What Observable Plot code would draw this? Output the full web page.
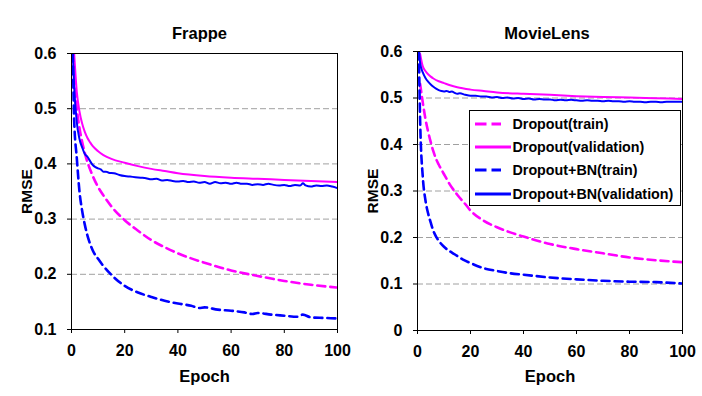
<!DOCTYPE html>
<html>
<head>
<meta charset="utf-8">
<script src="https://cdn.jsdelivr.net/npm/d3@7"></script>
<script src="https://cdn.jsdelivr.net/npm/@observablehq/plot@0.6"></script>
<style>
  body { margin: 0; background: #fff; }
  #chart { position: relative; width: 702px; height: 396px; font-family: "Liberation Sans", Arial, sans-serif; }
  #chart .panel { position: absolute; top: 0; }
  #legend { position: absolute; left: 469px; top: 110px; width: 212px; height: 96px; box-sizing: border-box;
            border: 1px solid #000; background: #fff; }
  #legend .row { position: absolute; left: 0; height: 20px; display: flex; align-items: center; }
  #legend .row span { font-weight: bold; font-size: 14.3px; color: #000; white-space: nowrap; }
</style>
</head>
<body>
<div id="chart">
  <div class="panel" id="left" style="left:0px"></div>
  <div class="panel" id="right" style="left:350px"></div>
  <div id="legend"></div>
</div>
<script>
// ---------- Data ----------
const panelTitles = ["Frappe", "MovieLens"];
const seriesNames = ["Dropout(train)", "Dropout(validation)", "Dropout+BN(train)", "Dropout+BN(validation)"];
const seriesColors = ["#ff00ff", "#ff00ff", "#0000ff", "#0000ff"];
const seriesDashed = [true, false, true, false];
const xTicks = [0, 20, 40, 60, 80, 100];
const frappeYTicks = [0.1, 0.2, 0.3, 0.4, 0.5, 0.6];
const movieYTicks = [0, 0.1, 0.2, 0.3, 0.4, 0.5, 0.6];

// Frappe
const frappeDropTrainEpoch = [1,2,3,4,5,6,7,8,10,12,15,20,25,30,35,40,50,60,70,80,90,100];
const frappeDropTrainRMSE  = [0.56,0.50,0.465,0.44,0.42,0.403,0.39,0.378,0.358,0.343,0.323,0.298,0.279,0.262,0.249,0.238,0.221,0.207,0.197,0.188,0.181,0.176];
const frappeDropValEpoch = [1,2,3,4,5,6,7,8,10,12,15,20,25,30,35,40,50,60,70,80,90,100];
const frappeDropValRMSE  = [0.60,0.53,0.495,0.473,0.458,0.447,0.439,0.432,0.423,0.416,0.409,0.402,0.396,0.391,0.387,0.383,0.378,0.375,0.373,0.371,0.369,0.367];
const frappeBNTrainEpoch = [0.5,1,2,3,4,5,6,7,8,10,12,15,20,25,30,35,40,45,48,50,55,60,65,68,70,75,80,85,87,90,95,100];
const frappeBNTrainRMSE  = [0.60,0.48,0.41,0.35,0.315,0.29,0.27,0.255,0.243,0.228,0.215,0.199,0.179,0.167,0.159,0.152,0.147,0.143,0.139,0.140,0.136,0.134,0.131,0.128,0.130,0.127,0.125,0.123,0.127,0.122,0.121,0.120];
const frappeBNValEpoch = [0.5,1,2,3,4,5,6,7,8,9,10,11,12,13,14,16,18,20,22,24,26,28,30,32,34,36,38,40,42,44,46,48,50,52,54,56,58,60,62,64,66,68,70,72,74,76,78,80,82,84,86,87,88,90,92,94,96,98,100];
const frappeBNValRMSE  = [0.60,0.54,0.475,0.445,0.43,0.418,0.413,0.405,0.398,0.394,0.392,0.390,0.386,0.386,0.384,0.383,0.380,0.378,0.377,0.376,0.375,0.374,0.372,0.373,0.370,0.371,0.369,0.368,0.369,0.367,0.368,0.366,0.367,0.364,0.367,0.365,0.366,0.364,0.366,0.364,0.364,0.362,0.363,0.362,0.364,0.362,0.361,0.362,0.360,0.362,0.361,0.365,0.361,0.359,0.361,0.360,0.361,0.359,0.356];

// MovieLens
const movieDropTrainEpoch = [1,2,3,4,5,6,7,8,10,12,15,18,20,25,30,35,40,50,60,70,80,90,100];
const movieDropTrainRMSE  = [0.53,0.49,0.455,0.428,0.405,0.385,0.369,0.357,0.336,0.316,0.292,0.272,0.258,0.236,0.222,0.211,0.202,0.186,0.175,0.166,0.157,0.151,0.147];
const movieDropValEpoch = [1,2,3,4,5,6,8,10,12,15,20,25,30,40,50,60,70,80,90,100];
const movieDropValRMSE  = [0.595,0.568,0.558,0.551,0.546,0.542,0.536,0.532,0.528,0.523,0.518,0.515,0.512,0.509,0.507,0.504,0.502,0.501,0.4995,0.498];
const movieBNTrainEpoch = [0.5,1,2,3,4,5,6,7,8,10,12,14,17,20,25,30,35,40,50,60,70,80,90,100];
const movieBNTrainRMSE  = [0.60,0.45,0.33,0.28,0.252,0.232,0.214,0.202,0.193,0.18,0.171,0.164,0.153,0.145,0.134,0.128,0.123,0.12,0.114,0.11,0.107,0.105,0.104,0.101];
const movieBNValEpoch = [0.6,1,2,3,4,5,6,7,8,9,10,11,12,13,14,15,16,18,20,22,24,26,28,30,32,34,36,38,40,42,44,46,48,50,52,54,56,58,60,62,64,66,68,70,72,74,76,78,80,82,84,86,88,90,92,94,96,98,100];
const movieBNValRMSE  = [0.60,0.575,0.555,0.543,0.535,0.529,0.524,0.520,0.517,0.515,0.514,0.515,0.513,0.514,0.511,0.509,0.510,0.507,0.505,0.505,0.503,0.503,0.501,0.502,0.500,0.501,0.499,0.500,0.498,0.499,0.497,0.498,0.497,0.497,0.495,0.496,0.495,0.496,0.495,0.494,0.495,0.494,0.494,0.493,0.494,0.493,0.493,0.492,0.493,0.492,0.492,0.491,0.492,0.492,0.491,0.492,0.492,0.492,0.492];

// ---------- Build ----------
function rows(epochs, values) { return epochs.map((e, i) => ({epoch: e, rmse: values[i]})); }

const frappeSeries = [
  rows(frappeDropTrainEpoch, frappeDropTrainRMSE),
  rows(frappeDropValEpoch, frappeDropValRMSE),
  rows(frappeBNTrainEpoch, frappeBNTrainRMSE),
  rows(frappeBNValEpoch, frappeBNValRMSE)
];
const movieSeries = [
  rows(movieDropTrainEpoch, movieDropTrainRMSE),
  rows(movieDropValEpoch, movieDropValRMSE),
  rows(movieBNTrainEpoch, movieBNTrainRMSE),
  rows(movieBNValEpoch, movieBNValRMSE)
];

const fmt = d => d === 0 ? "0" : d.toFixed(1);

function panel({title, series, yTicks, width, margins, titleDx, titleDy, labelDy}) {
  const yDomain = [yTicks[0], yTicks[yTicks.length - 1]];
  const grid = yTicks.slice(1, -1);
  const lineMarks = series.map((data, i) => Plot.line(data, {
    x: "epoch", y: "rmse",
    stroke: seriesColors[i],
    strokeWidth: seriesDashed[i] ? 2.6 : 2,
    strokeDasharray: seriesDashed[i] ? "8,5" : null,
    curve: "monotone-x",
    clip: true
  }));
  return Plot.plot({
    width, height: 396,
    marginLeft: margins[0], marginRight: margins[1], marginTop: margins[2], marginBottom: margins[3],
    style: {fontFamily: "'Liberation Sans', Arial, sans-serif", fontSize: "16px", fontWeight: "bold", color: "#000", background: "transparent", overflow: "visible"},
    x: {domain: [0, 100]},
    y: {domain: yDomain},
    marks: [
      Plot.ruleY(grid, {stroke: "#a0a0a0", strokeWidth: 1, strokeDasharray: "6,3"}),
      ...lineMarks,
      Plot.frame({stroke: "#000", strokeWidth: 1}),
      Plot.axisX({ticks: xTicks, tickSize: 4, tickPadding: 11, label: null, tickFormat: d => String(d), fontSize: 16}),
      Plot.axisY({ticks: yTicks, tickSize: 4, tickPadding: 11, label: null, tickFormat: fmt, fontSize: 16}),
      Plot.text([title], {frameAnchor: "top", lineAnchor: "middle", textAnchor: "middle", dy: titleDy, dx: titleDx, fontSize: 16.5, fontWeight: "bold", fill: "#000"}),
      Plot.text(["Epoch"], {frameAnchor: "bottom", lineAnchor: "middle", textAnchor: "middle", dy: labelDy, fontSize: 16.5, fontWeight: "bold", fill: "#000"}),
      Plot.text(["RMSE"], {frameAnchor: "left", lineAnchor: "middle", textAnchor: "middle", dx: -44, rotate: -90, fontSize: 15.5, fontWeight: "bold", fill: "#000"})
    ]
  });
}

document.getElementById("left").appendChild(panel({
  title: panelTitles[0], series: frappeSeries, yTicks: frappeYTicks,
  width: 350, margins: [71, 13, 53, 67], titleDx: -5, titleDy: -20, labelDy: 47
}));
document.getElementById("right").appendChild(panel({
  title: panelTitles[1], series: movieSeries, yTicks: movieYTicks,
  width: 352, margins: [67, 20, 51, 66], titleDx: -3, titleDy: -18, labelDy: 46
}));

// Legend
const legend = document.getElementById("legend");
const rowCenters = [12.7, 35.7, 59.3, 82.7];
seriesNames.forEach((name, i) => {
  const row = document.createElement("div");
  row.className = "row";
  row.style.top = (rowCenters[i] - 10) + "px";
  const ns = "http://www.w3.org/2000/svg";
  const svg = document.createElementNS(ns, "svg");
  svg.setAttribute("width", 42); svg.setAttribute("height", 20);
  svg.style.display = "block";
  const line = document.createElementNS(ns, "line");
  line.setAttribute("x1", 5); line.setAttribute("x2", seriesDashed[i] ? 31 : 41);
  line.setAttribute("y1", 10); line.setAttribute("y2", 10);
  line.setAttribute("stroke", seriesColors[i]);
  line.setAttribute("stroke-width", 3);
  if (seriesDashed[i]) line.setAttribute("stroke-dasharray", "11.5,5");
  svg.appendChild(line);
  const label = document.createElement("span");
  label.textContent = name;
  label.style.marginLeft = "0.5px";
  row.appendChild(svg); row.appendChild(label);
  legend.appendChild(row);
});
</script>
</body>
</html>
